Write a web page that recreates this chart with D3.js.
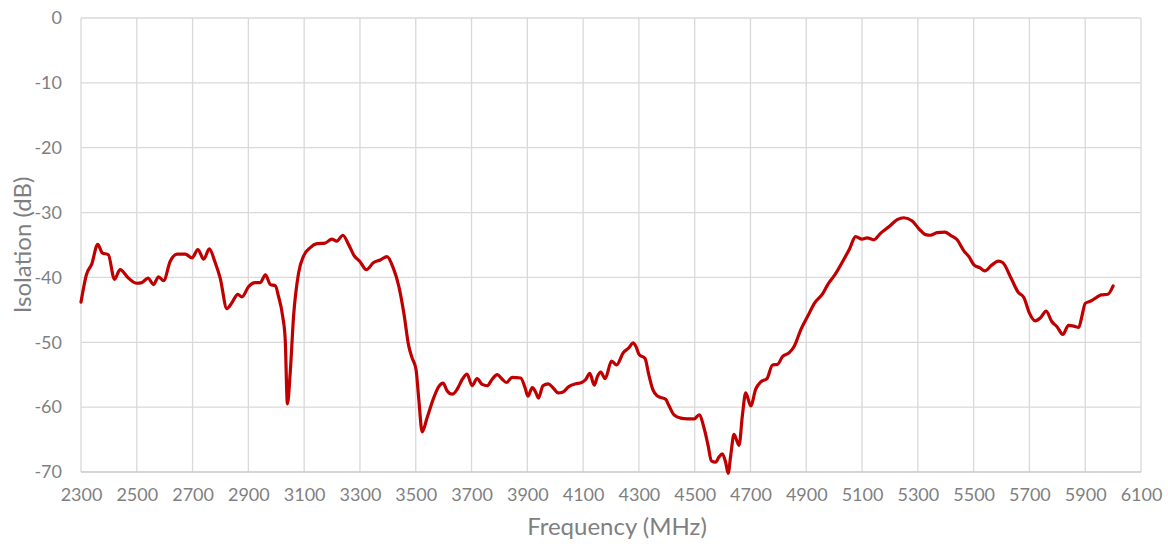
<!DOCTYPE html>
<html>
<head>
<meta charset="utf-8">
<script src="https://cdn.jsdelivr.net/npm/d3@7"></script>
<style>
  body { margin: 0; background: #fff; }
  svg text { font-family: Lato, "Open Sans", sans-serif; fill: #7f7f7f; }
</style>
</head>
<body>
<div id="chart"></div>
<script>
// frequency (MHz) and isolation (dB)
const freq = [
  2300, 2320, 2338, 2360, 2376, 2398, 2420, 2440, 2470, 2500, 2518, 2540, 2560, 2578, 2596,
  2620, 2644, 2674, 2698, 2719, 2740, 2760, 2781, 2799, 2823, 2841, 2862, 2877, 2901, 2925,
  2943, 2961, 2979, 2997, 3008, 3023, 3032, 3040, 3050, 3062, 3080, 3098, 3122, 3146, 3175,
  3199, 3217, 3239, 3259, 3280, 3299, 3323, 3349, 3373, 3397, 3419, 3439, 3457, 3475, 3487,
  3501, 3511, 3523, 3541, 3565, 3583, 3598, 3613, 3631, 3649, 3667, 3684, 3702, 3720, 3738,
  3756, 3774, 3792, 3810, 3825, 3846, 3876, 3892, 3902, 3918, 3930, 3940, 3956, 3975, 3992,
  4011, 4026, 4050, 4074, 4095, 4110, 4124, 4140, 4152, 4163, 4179, 4202, 4220, 4244, 4263,
  4280, 4289, 4301, 4322, 4335, 4350, 4367, 4396, 4408, 4426, 4450, 4474, 4498, 4516, 4534,
  4548, 4560, 4575, 4587, 4599, 4611, 4620, 4629, 4641, 4659, 4671, 4683, 4701, 4719, 4737,
  4759, 4779, 4797, 4815, 4839, 4857, 4881, 4905, 4929, 4959, 4977, 5001, 5031, 5055, 5077,
  5100, 5118, 5142, 5166, 5196, 5226, 5250, 5280, 5304, 5328, 5345, 5369, 5397, 5417, 5441,
  5465, 5483, 5502, 5522, 5540, 5565, 5589, 5604, 5634, 5660, 5680, 5700, 5721, 5740, 5760,
  5780, 5799, 5820, 5840, 5859, 5877, 5888, 5900, 5922, 5940, 5957, 5981, 6000
];
const isolation = [
  -43.8, -39.5, -38.0, -34.9, -36.2, -36.5, -40.3, -38.8, -40.1, -40.9, -40.8, -40.1, -41.1, -39.9, -40.5,
  -37.5, -36.4, -36.4, -37.0, -35.7, -37.2, -35.6, -37.7, -40.1, -44.8, -43.9, -42.6, -43.0, -41.4, -40.8,
  -40.8, -39.6, -41.1, -41.3, -42.9, -46.0, -49.5, -59.5, -54.7, -46.0, -39.3, -36.7, -35.4, -34.8, -34.7,
  -34.1, -34.4, -33.5, -34.9, -36.7, -37.5, -38.8, -37.7, -37.3, -36.8, -38.5, -41.3, -45.4, -50.6, -52.4,
  -54.2, -58.8, -63.8, -61.6, -58.5, -56.8, -56.3, -57.5, -58.0, -57.2, -55.7, -54.9, -56.7, -55.6, -56.5,
  -56.7, -55.7, -55.0, -55.7, -56.2, -55.4, -55.5, -57.0, -58.3, -57.0, -57.7, -58.6, -56.7, -56.4, -57.0,
  -57.8, -57.7, -56.8, -56.4, -56.2, -55.7, -54.8, -56.6, -55.2, -54.6, -55.6, -52.9, -53.5, -51.6, -50.9,
  -50.1, -50.6, -51.9, -52.5, -54.9, -57.3, -58.3, -58.8, -59.8, -61.2, -61.7, -61.8, -61.8, -61.2, -63.3,
  -65.9, -68.3, -68.5, -67.7, -67.2, -68.5, -70.2, -67.5, -64.2, -65.9, -61.3, -57.8, -59.8, -57.2, -56.1,
  -55.6, -53.5, -53.4, -52.2, -51.6, -50.6, -48.0, -46.0, -44.0, -42.5, -41.1, -39.7, -37.5, -35.6, -33.7,
  -34.1, -33.9, -34.2, -33.2, -32.2, -31.1, -30.8, -31.3, -32.5, -33.4, -33.5, -33.1, -33.0, -33.5, -34.2,
  -35.9, -36.8, -38.1, -38.5, -39.0, -38.1, -37.5, -37.7, -40.1, -42.3, -43.1, -45.5, -46.7, -46.2, -45.2,
  -46.8, -47.6, -48.8, -47.4, -47.5, -47.7, -46.0, -44.0, -43.6, -43.1, -42.7, -42.6, -41.3
];
const xTicks = d3.range(2300, 6101, 200);
const yTicks = d3.range(-70, 1, 10);

const W = 1168, H = 544;
const margin = {top: 18, right: 27, bottom: 72, left: 81};
const width = W - margin.left - margin.right;
const height = H - margin.top - margin.bottom;

const svg = d3.select("#chart").append("svg")
  .attr("width", W)
  .attr("height", H);
const g = svg.append("g")
  .attr("transform", `translate(${margin.left},${margin.top})`);

const x = d3.scaleLinear().domain([2300, 6100]).range([0, width]);
const y = d3.scaleLinear().domain([-70, 0]).range([height, 0]);

// grid
g.append("g")
  .selectAll("line")
  .data(xTicks)
  .join("line")
    .attr("x1", d => x(d)).attr("x2", d => x(d))
    .attr("y1", 0).attr("y2", height)
    .attr("stroke", "#d9d9d9")
    .attr("stroke-width", 1.3);
g.append("g")
  .selectAll("line")
  .data(yTicks)
  .join("line")
    .attr("x1", 0).attr("x2", width)
    .attr("y1", d => y(d)).attr("y2", d => y(d))
    .attr("stroke", d => d === -70 ? "#c9c9c9" : "#d9d9d9")
    .attr("stroke-width", 1.3);

// tick labels (plain hyphen for negatives, like the original)
const xAxis = g.append("g")
  .attr("transform", `translate(0,${height})`)
  .call(d3.axisBottom(x).tickValues(xTicks).tickSize(0).tickPadding(16).tickFormat(d => String(d)));
xAxis.select(".domain").remove();
xAxis.selectAll("text").style("font-size", "18px");

const yAxis = g.append("g")
  .call(d3.axisLeft(y).tickValues(yTicks).tickSize(0).tickPadding(19).tickFormat(d => String(d)));
yAxis.select(".domain").remove();
yAxis.selectAll("text").style("font-size", "18px");

// titles
svg.append("text")
  .attr("x", margin.left + width / 2 + 6)
  .attr("y", 535)
  .attr("text-anchor", "middle")
  .style("font-size", "24px")
  .text("Frequency (MHz)");
svg.append("text")
  .attr("transform", `translate(31,${margin.top + height / 2}) rotate(-90)`)
  .attr("text-anchor", "middle")
  .style("font-size", "24px")
  .text("Isolation (dB)");

// curve
const line = d3.line()
  .x((d, i) => x(freq[i]))
  .y(d => y(d))
  .curve(d3.curveMonotoneX);

g.append("path")
  .datum(isolation)
  .attr("fill", "none")
  .attr("stroke", "#c00000")
  .attr("stroke-width", 3.2)
  .attr("stroke-linejoin", "round")
  .attr("stroke-linecap", "round")
  .attr("d", line);
</script>
</body>
</html>
